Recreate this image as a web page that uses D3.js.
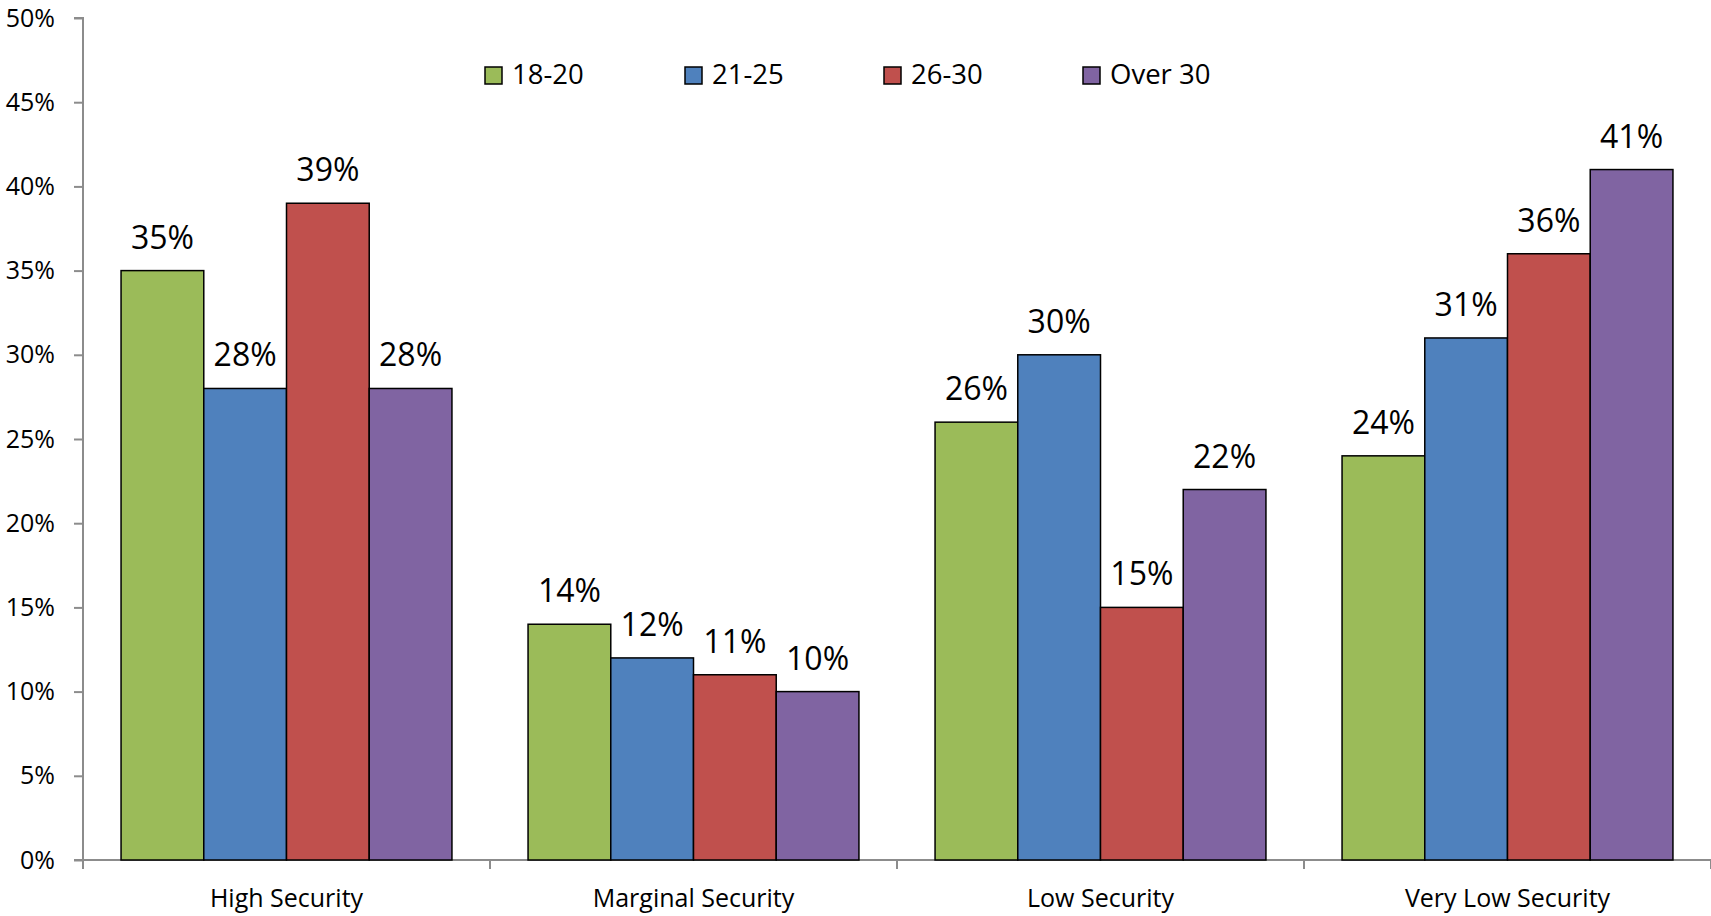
<!DOCTYPE html>
<html>
<head>
<meta charset="utf-8">
<script src="https://cdn.jsdelivr.net/npm/d3@7"></script>
<style>
  html, body { margin: 0; padding: 0; background: #fff; }
  svg { display: block; font-family: "Open Sans", sans-serif; }
</style>
</head>
<body>
<svg id="chart" width="1711" height="916"></svg>
<script>
const categories = ["High Security", "Marginal Security", "Low Security", "Very Low Security"];
const seriesNames = ["18-20", "21-25", "26-30", "Over 30"];
const series1820 = [35, 14, 26, 24];
const series2125 = [28, 12, 30, 31];
const series2630 = [39, 11, 15, 36];
const seriesOver30 = [28, 10, 22, 41];
const yTicks = [0, 5, 10, 15, 20, 25, 30, 35, 40, 45, 50];
const colors = ["#9BBB59", "#4F81BD", "#C0504D", "#8064A2"];

const allSeries = [series1820, series2125, series2630, seriesOver30];

const svg = d3.select("#chart");
const plotLeft = 83, plotRight = 1711, plotTop = 18, plotBottom = 860;

const x0 = d3.scaleBand().domain(categories).range([plotLeft, plotRight]).padding(0);
const gapRatio = 0.92;
const bw0 = x0.bandwidth();
const barW = bw0 / (seriesNames.length + gapRatio);
const x1 = d3.scaleBand().domain(seriesNames)
  .range([barW * gapRatio / 2, bw0 - barW * gapRatio / 2]).padding(0);
const y = d3.scaleLinear().domain([0, 50]).range([plotBottom, plotTop]);

// Y axis
const yAxis = d3.axisLeft(y).tickValues(yTicks).tickFormat(d => d + "%").tickSize(9).tickPadding(19);
const gy = svg.append("g").attr("transform", `translate(${plotLeft},0)`).call(yAxis);
gy.select(".domain").attr("stroke", "#8c8c8c").attr("stroke-width", 2)
  .attr("d", `M-9,${plotTop}H0V${plotBottom + 9}`);
gy.selectAll(".tick line").attr("stroke", "#8c8c8c").attr("stroke-width", 2);
gy.selectAll(".tick text").attr("fill", "#000").style("font-size", "25px")
  .style("font-family", "'Open Sans', sans-serif");

// X axis
const boundaries = categories.map(c => x0(c)).concat([plotRight]);
const gx = svg.append("g");
gx.append("line").attr("x1", plotLeft - 9).attr("x2", plotRight).attr("y1", plotBottom).attr("y2", plotBottom)
  .attr("stroke", "#8c8c8c").attr("stroke-width", 2);
gx.selectAll("line.tk").data(boundaries).join("line").attr("class", "tk")
  .attr("x1", d => d).attr("x2", d => d).attr("y1", plotBottom).attr("y2", plotBottom + 9)
  .attr("stroke", "#8c8c8c").attr("stroke-width", 2);
gx.selectAll("text").data(categories).join("text")
  .attr("x", d => x0(d) + bw0 / 2).attr("y", 907)
  .attr("text-anchor", "middle").style("font-size", "25px").attr("fill", "#000")
  .text(d => d);

// Bars
const groups = svg.append("g").selectAll("g").data(categories).join("g")
  .attr("transform", d => `translate(${x0(d)},0)`);
groups.each(function(cat, ci) {
  const g = d3.select(this);
  const vals = seriesNames.map((s, si) => ({ s, si, v: allSeries[si][ci] }));
  g.selectAll("rect").data(vals).join("rect")
    .attr("x", d => x1(d.s)).attr("width", x1.bandwidth())
    .attr("y", d => y(d.v)).attr("height", d => plotBottom - y(d.v))
    .attr("fill", d => colors[d.si]).attr("stroke", "#000").attr("stroke-width", 1.5);
  g.selectAll("text").data(vals).join("text")
    .attr("x", d => x1(d.s) + x1.bandwidth() / 2).attr("y", d => y(d.v) - 22)
    .attr("text-anchor", "middle").style("font-size", "32px").attr("fill", "#000")
    .text(d => d.v + "%");
});

// Legend
const legendX = [485, 685, 884, 1083];
const lg = svg.append("g").selectAll("g").data(seriesNames).join("g")
  .attr("transform", (d, i) => `translate(${legendX[i]},0)`);
lg.append("rect").attr("x", 0).attr("y", 67).attr("width", 17).attr("height", 17)
  .attr("fill", (d, i) => colors[i]).attr("stroke", "#000").attr("stroke-width", 1.5);
lg.append("text").attr("x", 27).attr("y", 84).style("font-size", "27.5px").attr("fill", "#000")
  .text(d => d);
</script>
</body>
</html>
